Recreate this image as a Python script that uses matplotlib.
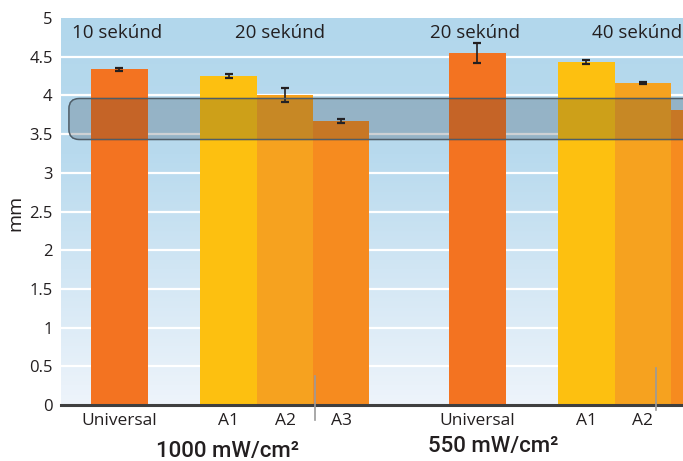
import numpy as np
import matplotlib
matplotlib.use("Agg")
import matplotlib.pyplot as plt
from matplotlib.colors import LinearSegmentedColormap
from matplotlib.patches import FancyBboxPatch

plt.rcParams['font.family'] = ['Open Sans', 'DejaVu Sans']

# data
labels = ["Universal", "A1", "A2", "A3", "Universal", "A1", "A2", "A3"]
values = [4.34, 4.25, 4.00, 3.67, 4.55, 4.43, 4.16, 3.81]
errors = [0.02, 0.03, 0.09, 0.03, 0.13, 0.03, 0.01, 0.03]
time_labels = ["10 sekúnd", "20 sekúnd", "20 sekúnd", "40 sekúnd"]
group_labels = ["1000 mW/cm²", "550 mW/cm²"]
y_ticks = [0, 0.5, 1, 1.5, 2, 2.5, 3, 3.5, 4, 4.5, 5]
band_low, band_high = 3.43, 3.96

# layout
positions = [1.035, 2.965, 3.965, 4.96, 7.37, 9.30, 10.30, 11.29]
colors = ["#f37321", "#fdc010", "#f6a21f", "#f68b1f",
          "#f37321", "#fdc010", "#f6a21f", "#f68b1f"]
time_pos = [0.19, 3.08, 6.53, 9.40]
x_max = 622 / 56.5

fig = plt.figure(figsize=(6.83, 4.61), dpi=100)
ax = fig.add_axes([61 / 683, 56 / 461, 1 - 61 / 683, 387 / 461])

# gradient background
cmap = LinearSegmentedColormap.from_list(
    "bg", [(0, "#eef4fb"), (0.4, "#cde4f3"), (0.65, "#b8daee"), (1, "#b2d7ec")])
grad = np.linspace(0, 1, 256).reshape(-1, 1)
ax.imshow(grad, cmap=cmap, aspect='auto', origin='lower',
          extent=[0, x_max, 0, 5], zorder=0)

for t in y_ticks[1:-1]:
    ax.axhline(t, color='white', lw=1.6, zorder=1)

ax.bar(positions, values, width=1.0, color=colors, zorder=2)
ax.errorbar(positions, values, yerr=errors, fmt='none', ecolor='#231f20',
            elinewidth=1.2, capsize=3.2, capthick=1.6, zorder=3)

band = FancyBboxPatch((0.14, band_low), 13, band_high - band_low,
                      boxstyle="round,pad=0,rounding_size=0.18",
                      mutation_aspect=0.73,
                      facecolor='#23303d', alpha=0.22, zorder=4)
ax.add_patch(band)
edge = FancyBboxPatch((0.14, band_low), 13, band_high - band_low,
                      boxstyle="round,pad=0,rounding_size=0.18",
                      mutation_aspect=0.73,
                      facecolor='none', edgecolor='#4f5d68', lw=1.0, zorder=4)
ax.add_patch(edge)

ax.axhline(0, color='#3f3f3f', lw=2.2, zorder=5, clip_on=False)

for x, t in zip(time_pos, time_labels):
    ax.text(x, 4.81, t, fontsize=13.5, color='#231f20', va='center',
            ha='left', zorder=6)

ax.set_yticks(y_ticks)
ax.set_yticklabels([f"{t:g}" for t in y_ticks])
ax.set_xticks(positions)
ax.set_xticklabels(labels)
ax.set_xlim(0, x_max)
ax.set_ylim(0, 5)
ax.tick_params(axis='y', length=0, labelsize=12, colors='#231f20', pad=6)
ax.tick_params(axis='x', length=0, labelsize=12.5, colors='#231f20', pad=6)
for s in ax.spines.values():
    s.set_visible(False)

# small separator marks under the axis
ax.plot([4.50, 4.50], [0.375, -0.19], color='#9a9a9a', lw=1.2,
        clip_on=False, zorder=6)
ax.plot([10.53, 10.53], [0.48, -0.065], color='#9a9a9a', lw=1.2,
        clip_on=False, zorder=6)

fig.text(15 / 683, 1 - 213 / 461, "mm", rotation=90, fontsize=14,
         color='#231f20', ha='center', va='center')
gfont = ['Roboto', 'DejaVu Sans']
fig.text(228 / 683, 1 - 451 / 461, group_labels[0], fontsize=16,
         family=gfont, weight='medium', color='#231f20',
         ha='center', va='center')
fig.text(493 / 683, 1 - 446 / 461, group_labels[1], fontsize=16,
         family=gfont, weight='medium', color='#231f20',
         ha='center', va='center')

fig.savefig("out.png", dpi=100)
